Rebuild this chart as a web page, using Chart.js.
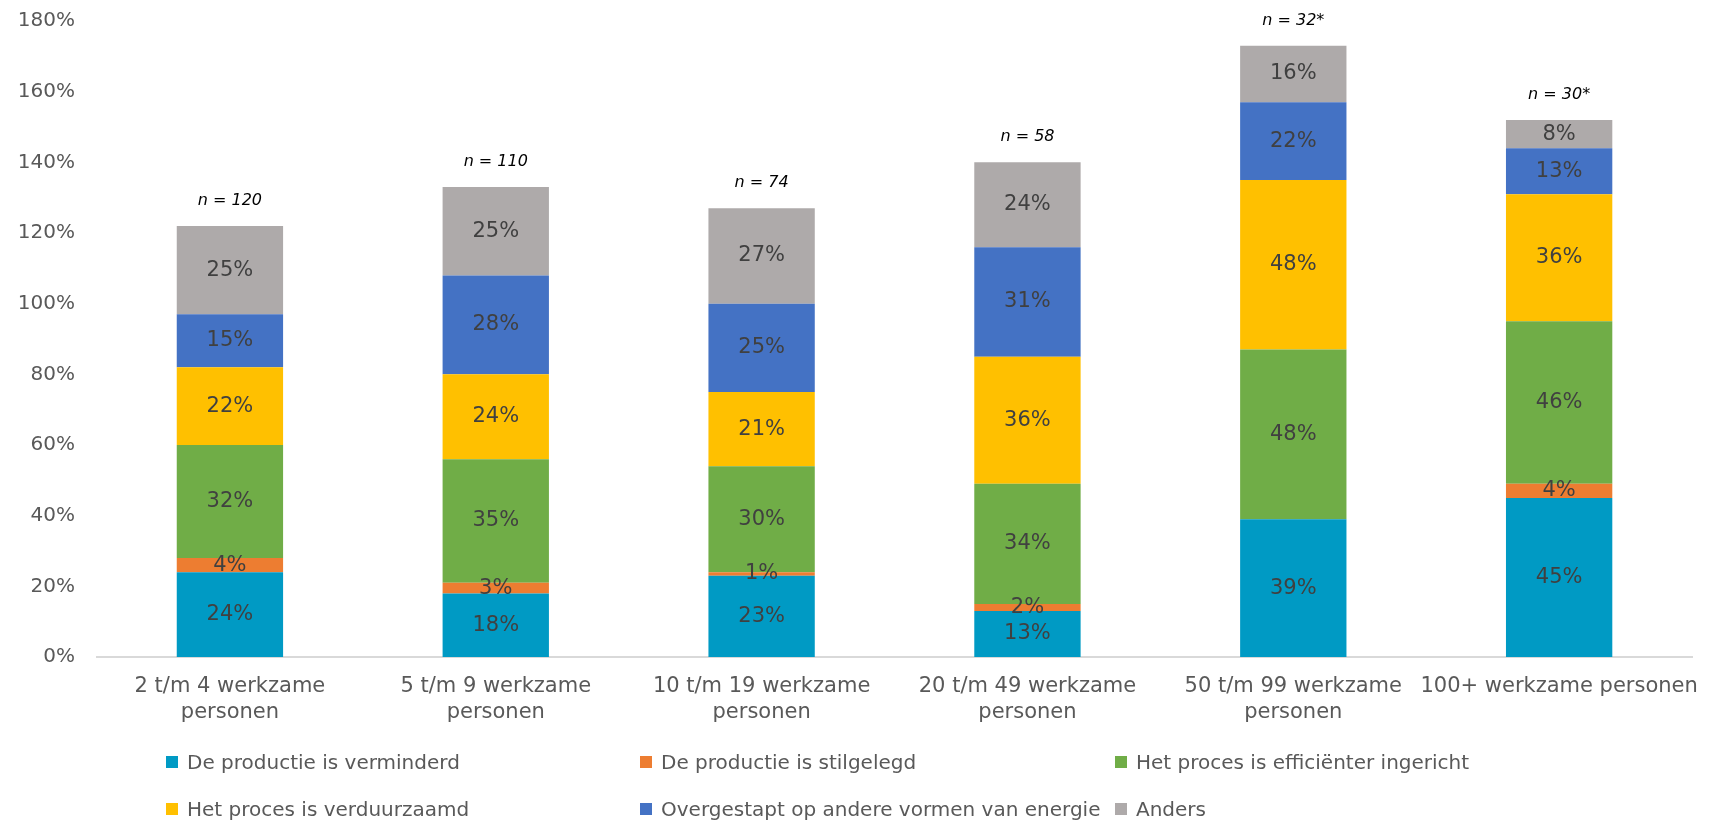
<!DOCTYPE html>
<html lang="nl">
<head>
<meta charset="utf-8">
<title>Maatregelen naar bedrijfsgrootte</title>
<script src="https://cdn.jsdelivr.net/npm/chart.js@4.4.1/dist/chart.umd.min.js"></script>
<style>
  html, body { margin: 0; padding: 0; background: #fff; }
  #wrap { position: relative; width: 1714px; height: 821px; }
  #chart { position: absolute; left: 0; top: 0; }
  #legend {
    position: absolute; left: 0; top: 0; width: 1714px; height: 821px;
    pointer-events: none;
    font-family: "DejaVu Sans", sans-serif; font-size: 20px; color: #595959;
  }
  .item { position: absolute; display: flex; align-items: center; white-space: nowrap; transform: translateY(-50%); }
  .swatch { width: 12px; height: 12px; margin-right: 9px; flex: none; }
</style>
</head>
<body>
<div id="wrap">
  <canvas id="chart" width="1714" height="821"></canvas>
  <div id="legend"></div>
</div>
<script>
// categories
const categories = [
  ["2 t/m 4 werkzame", "personen"],
  ["5 t/m 9 werkzame", "personen"],
  ["10 t/m 19 werkzame", "personen"],
  ["20 t/m 49 werkzame", "personen"],
  ["50 t/m 99 werkzame", "personen"],
  ["100+ werkzame personen"]
];
const sampleSizes = ["n = 120", "n = 110", "n = 74", "n = 58", "n = 32*", "n = 30*"];

// series (%)
const verminderd   = [24, 18, 23, 13, 39, 45];
const stilgelegd   = [4, 3, 1, 2, 0, 4];
const efficienter  = [32, 35, 30, 34, 48, 46];
const verduurzaamd = [22, 24, 21, 36, 48, 36];
const overgestapt  = [15, 28, 25, 31, 22, 13];
const anders       = [25, 25, 27, 24, 16, 8];

const seriesNames = [
  "De productie is verminderd",
  "De productie is stilgelegd",
  "Het proces is efficiënter ingericht",
  "Het proces is verduurzaamd",
  "Overgestapt op andere vormen van energie",
  "Anders"
];
const seriesValues = [verminderd, stilgelegd, efficienter, verduurzaamd, overgestapt, anders];
const seriesColors = ["#009AC4", "#ED7D31", "#70AD47", "#FFC000", "#4472C4", "#AEAAAA"];

// y ticks
const yMin = 0;
const yMax = 180;
const yStep = 20;

const FONT = "'DejaVu Sans', sans-serif";

const barLabels = {
  id: "barLabels",
  afterDatasetsDraw(chart) {
    const ctx = chart.ctx;
    ctx.save();
    ctx.font = "21px " + FONT;
    ctx.fillStyle = "#404040";
    ctx.textAlign = "center";
    ctx.textBaseline = "middle";
    chart.data.datasets.forEach((ds, i) => {
      const meta = chart.getDatasetMeta(i);
      meta.data.forEach((bar, j) => {
        const v = ds.data[j];
        if (!v) return;
        ctx.fillText(v + "%", bar.x, (bar.y + bar.base) / 2);
      });
    });

    // n = ... above each stack
    const last = chart.getDatasetMeta(chart.data.datasets.length - 1);
    ctx.font = "italic 16px " + FONT;
    ctx.fillStyle = "#000";
    last.data.forEach((bar, j) => {
      ctx.fillText(sampleSizes[j], bar.x, bar.y - 25);
    });
    ctx.restore();
  }
};

const ctx = document.getElementById("chart");

new Chart(ctx, {
  type: "bar",
  data: {
    labels: categories,
    datasets: seriesNames.map((name, i) => ({
      label: name,
      data: seriesValues[i],
      backgroundColor: seriesColors[i],
      borderWidth: 0,
      barPercentage: 0.4,
      categoryPercentage: 1
    }))
  },
  options: {
    responsive: false,
    animation: false,
    layout: { padding: { top: 21, right: 2, bottom: 84, left: 0 } },
    plugins: {
      legend: { display: false },
      tooltip: { enabled: false }
    },
    scales: {
      x: {
        stacked: true,
        grid: { display: false, drawTicks: false },
        border: { color: "#D9D9D9", width: 2 },
        ticks: {
          color: "#595959",
          font: { family: FONT, size: 21, lineHeight: 1.25 },
          padding: 16,
          maxRotation: 0,
          autoSkip: false
        },
        afterFit(scale) { scale.height = 80; }
      },
      y: {
        stacked: true,
        min: yMin,
        max: yMax,
        grid: { display: false, drawTicks: false },
        border: { display: false },
        ticks: {
          stepSize: yStep,
          color: "#595959",
          font: { family: FONT, size: 20 },
          padding: 22,
          callback: (v) => v + "%"
        },
        afterFit(scale) {
          scale.width = 97;
          scale.paddingTop = 0;
          scale.paddingBottom = 0;
        }
      }
    }
  },
  plugins: [barLabels]
});

// legend in three columns, two rows
const legend = document.getElementById("legend");
const colX = [166, 640, 1115];
const rowY = [762, 809];
seriesNames.forEach((name, i) => {
  const item = document.createElement("div");
  item.className = "item";
  item.style.left = colX[i % 3] + "px";
  item.style.top = rowY[Math.floor(i / 3)] + "px";
  const sw = document.createElement("span");
  sw.className = "swatch";
  sw.style.background = seriesColors[i];
  const txt = document.createElement("span");
  txt.textContent = name;
  item.appendChild(sw);
  item.appendChild(txt);
  legend.appendChild(item);
});
</script>
</body>
</html>
